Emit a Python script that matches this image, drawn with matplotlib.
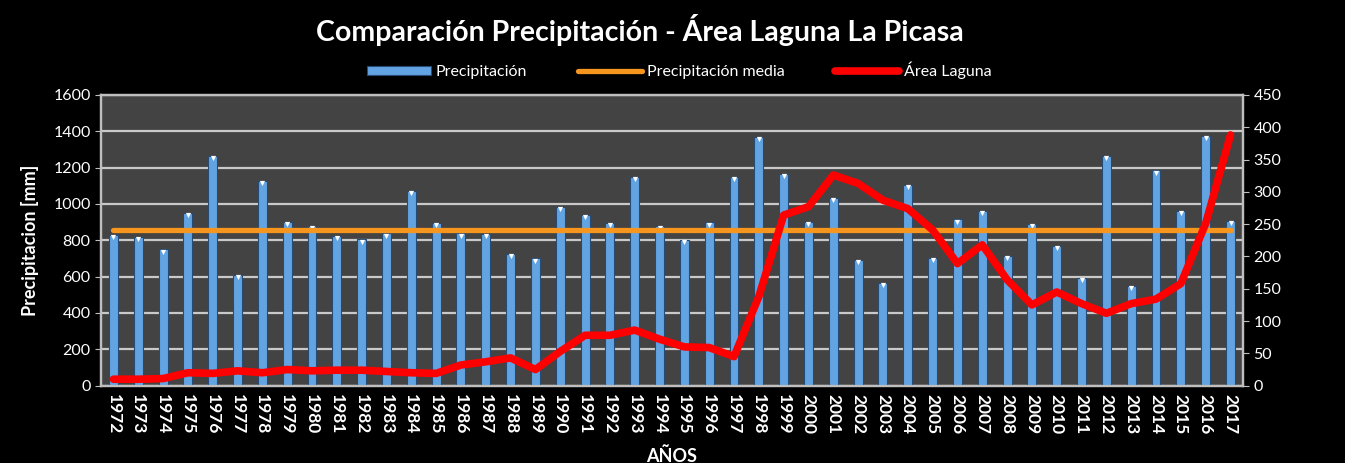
import matplotlib
matplotlib.use("Agg")
import matplotlib.pyplot as plt
import numpy as np

plt.rcParams['font.family'] = ['Lato', 'DejaVu Sans']

# ================================
# Datos
# ================================
anios = list(range(1972, 2018))

precipitacion = [830, 820, 750, 950, 1265, 610, 1125, 900, 880, 822,
                 805, 838, 1070, 895, 838, 835, 725, 700, 985, 940,
                 895, 1150, 880, 800, 898, 1150, 1370, 1165, 900, 1035,
                 690, 565, 1105, 705, 915, 960, 715, 890, 770, 595,
                 1265, 550, 1185, 960, 1375, 905]

precipitacion_media = 855

area_laguna = [10, 10, 11, 20, 19, 23, 20, 25, 23, 24,
               24, 22, 20, 19, 32, 37, 43, 25, 53, 78,
               78, 86, 72, 60, 59, 45, 138, 264, 277, 326,
               313, 287, 274, 241, 189, 218, 164, 125, 145, 127,
               112, 127, 134, 158, 251, 388]

# ================================
# Figura
# ================================
fig = plt.figure(figsize=(13.45, 4.63), dpi=100, facecolor='black')
ax = fig.add_axes([0.0751, 0.167, 0.849, 0.628])
ax.set_facecolor('#434343')

x = np.arange(len(anios))

barras = ax.bar(x, precipitacion, width=0.36, color='#62A3E2', edgecolor='#274B75',
                linewidth=0.8, zorder=3, label='Precipitación')
ax.scatter(x, np.array(precipitacion) - 12, marker='v', s=14, color='white',
           zorder=4, linewidths=0)
linea_media, = ax.plot([x[0], x[-1]], [precipitacion_media, precipitacion_media],
                       color='#F7961F', linewidth=3.8, solid_capstyle='round', zorder=5,
                       label='Precipitación media')

ax.set_xlim(-0.5, len(anios) - 0.5)
ax.set_ylim(0, 1600)
ax.set_yticks(range(0, 1601, 200))
ax.grid(axis='y', color='#C9C9C9', linewidth=1.6, zorder=1)
ax.set_axisbelow(True)

ax.set_xticks(x)
ax.set_xticklabels([str(a) for a in anios], rotation=-90, color='white',
                   fontsize=12.5, fontweight='bold')
ax.tick_params(axis='y', colors='white', labelsize=11.5, length=4, color='#BFBFBF')
ax.tick_params(axis='x', length=0, pad=6)
for lado in ['left', 'bottom', 'right', 'top']:
    ax.spines[lado].set_color('#BFBFBF')
    ax.spines[lado].set_linewidth(1.6)

ax.set_ylabel('Precipitacion [mm]', color='white', fontsize=13,
              fontweight='bold', labelpad=10)
ax.set_xlabel('AÑOS', color='white', fontsize=13, fontweight='bold', labelpad=9)

# Eje secundario - area de la laguna
ax2 = ax.twinx()
ax2.patch.set_visible(False)
linea_area, = ax2.plot(x, area_laguna, color='#FF0000', linewidth=5.5,
                       solid_joinstyle='round', solid_capstyle='round', zorder=6,
                       label='Área Laguna')
ax2.set_ylim(0, 450)
ax2.set_yticks(range(0, 451, 50))
ax2.tick_params(axis='y', colors='white', labelsize=11.5, length=4, color='#BFBFBF')
for lado in ['left', 'bottom', 'right', 'top']:
    ax2.spines[lado].set_color('#BFBFBF')
    ax2.spines[lado].set_linewidth(1.6)

fig.suptitle('Comparación Precipitación - Área Laguna La Picasa',
             color='white', fontsize=20.5, fontweight='bold', x=0.476, y=0.97)

leg = fig.legend([barras, linea_media, linea_area],
                 ['Precipitación', 'Precipitación media', 'Área Laguna'],
                 loc='center', bbox_to_anchor=(0.505, 0.848),
                 ncol=3, frameon=False, fontsize=11.5, handlelength=4,
                 handleheight=0.5, handletextpad=0.3, columnspacing=3.2)
for t in leg.get_texts():
    t.set_color('white')

fig.savefig('out.png', dpi=100, facecolor='black')
